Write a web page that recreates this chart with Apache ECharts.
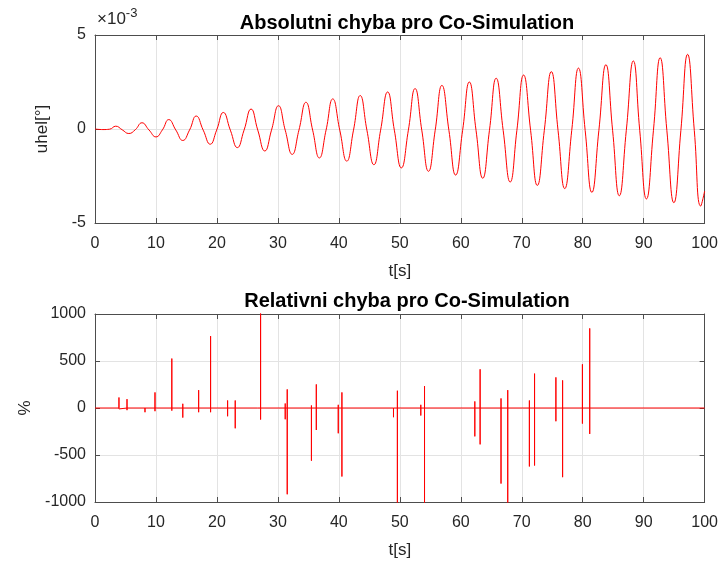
<!DOCTYPE html>
<html>
<head>
<meta charset="utf-8">
<script src="https://cdn.jsdelivr.net/npm/echarts@6/dist/echarts.min.js"></script>
<style>html,body{margin:0;padding:0;background:#fff}#c{width:721px;height:563px}</style>
</head>
<body>
<div id="c"></div>
<script>
// ---- Data ----
const xTicks = [0, 10, 20, 30, 40, 50, 60, 70, 80, 90, 100];
const absTitle = 'Absolutni chyba pro Co-Simulation';
const relTitle = 'Relativni chyba pro Co-Simulation';
const absYTicks = [-5, 0, 5];          // in units of 1e-3
const relYTicks = [-1000, -500, 0, 500, 1000];

// absolute error key points (peaks, troughs, crossings), values in 1e-3 units
const absT = [0, 1.3, 2.4, 3.4, 4.45, 5.55, 6.6, 7.7, 8.85, 10.0, 11.05, 12.1, 13.25, 14.4, 15.5, 16.6,
  17.75, 18.9, 19.95, 21.05, 22.2, 23.35, 24.45, 25.6, 26.7, 27.85, 28.95, 30.1, 31.2, 32.35, 33.45, 34.6,
  35.7, 36.8, 37.9, 39.0, 40.15, 41.3, 42.4, 43.5, 44.6, 45.75, 46.85, 48.0, 49.1, 50.25, 51.4, 52.5,
  53.6, 54.7, 55.8, 56.9, 58.05, 59.15, 60.3, 61.4, 62.5, 63.6, 64.7, 65.8, 66.95, 68.1, 69.2, 70.3,
  71.45, 72.55, 73.7, 74.85, 75.95, 77.05, 78.2, 79.3, 80.4, 81.5, 82.65, 83.8, 84.9, 86.0, 87.15, 88.3,
  89.35, 90.45, 91.6, 92.7, 93.8, 94.95, 96.1, 97.2, 98.3, 99.35, 100];
const absV = [0, -0.03, -0.01, 0.15, -0.04, -0.24, -0.04, 0.33, -0.05, -0.42, -0.05, 0.50, -0.05, -0.61, -0.06, 0.69,
  -0.06, -0.81, -0.06, 0.88, -0.06, -0.99, -0.06, 1.06, -0.06, -1.17, -0.06, 1.24, -0.06, -1.35, -0.06, 1.42,
  -0.06, -1.54, -0.06, 1.60, -0.06, -1.71, -0.06, 1.78, -0.06, -1.90, -0.06, 1.97, -0.06, -2.07, -0.06, 2.15,
  -0.06, -2.25, -0.07, 2.32, -0.07, -2.45, -0.07, 2.50, -0.07, -2.62, -0.07, 2.70, -0.07, -2.82, -0.07, 2.87,
  -0.07, -3.00, -0.07, 3.05, -0.07, -3.17, -0.07, 3.24, -0.07, -3.37, -0.07, 3.42, -0.07, -3.55, -0.07, 3.62,
  -0.07, -3.72, -0.07, 3.79, -0.07, -3.92, -0.07, 3.97, -0.07, -4.10, -3.3];

// relative error spikes: time, max, min (in %)
const spikeT   = [3.93, 5.25, 8.2, 9.84, 12.6, 14.4, 17.0, 18.96, 21.75, 23.0, 26.7, 27.16, 31.2, 31.53, 35.5, 36.3,
  39.9, 40.5, 48.96, 49.6, 53.44, 54.05, 62.3, 63.17, 66.6, 67.7, 71.25, 72.1, 75.6, 76.7, 79.95, 81.15];
const spikeMax = [112, 94, 16, 166, 526, 45, 190, 765, 80, 80, 10, 1150, 48, 198, 27, 251,
  34, 166, 16, 184, 34, 233, 70, 412, 102, 190, 80, 366, 326, 294, 465, 847];
const spikeMin = [-10, -23, -45, -34, -28, -102, -45, -45, -88, -216, -5, -123, -120, -918, -561, -234,
  -269, -729, -98, -1100, -80, -1100, -302, -387, -804, -1100, -622, -612, -141, -736, -166, -276];

// ---- build series data ----
const absData = absT.map((t, i) => [t, absV[i]]);
const relData = [[0, 0]];
spikeT.forEach((t, i) => {
  relData.push([t, 0], [t, spikeMax[i]], [t, spikeMin[i]], [t, 0]);
});
relData.push([100, 0]);

const TXT = '#262626';
const AX = '#4d4d4d';
const GRIDC = '#e3e3e3';
const FONT = 'Liberation Sans';
const fmt = v => String(v);

function xAxisMain(gi) {
  return {
    type: 'value', gridIndex: gi, min: xTicks[0], max: xTicks[xTicks.length - 1], interval: 10,
    name: 't[s]', nameLocation: 'middle', nameGap: 40,
    nameTextStyle: { color: TXT, fontSize: 17, fontFamily: FONT },
    axisLine: { show: true, onZero: false, lineStyle: { color: AX, width: 1 } },
    axisTick: { show: true, inside: true, length: 5, lineStyle: { color: AX } },
    axisLabel: { color: TXT, fontSize: 16, fontFamily: FONT, margin: 13, formatter: fmt },
    splitLine: { show: true, lineStyle: { color: GRIDC, width: 1 } }
  };
}
function xAxisTop(gi) {
  return {
    type: 'value', gridIndex: gi, position: 'top', min: xTicks[0], max: xTicks[xTicks.length - 1], interval: 10,
    axisLine: { show: true, onZero: false, lineStyle: { color: AX, width: 1 } },
    axisTick: { show: true, inside: true, length: 5, lineStyle: { color: AX } },
    axisLabel: { show: false }, splitLine: { show: false }
  };
}
function yAxisMain(gi, ticks, interval, name, gap) {
  return {
    type: 'value', gridIndex: gi, min: ticks[0], max: ticks[ticks.length - 1], interval: interval,
    name: name, nameLocation: 'middle', nameGap: gap, nameRotate: 90,
    nameTextStyle: { color: TXT, fontSize: 17, fontFamily: FONT },
    axisLine: { show: true, onZero: false, lineStyle: { color: AX, width: 1 } },
    axisTick: { show: true, inside: true, length: 5, lineStyle: { color: AX } },
    axisLabel: { color: TXT, fontSize: 16, fontFamily: FONT, margin: 9, formatter: fmt },
    splitLine: { show: true, lineStyle: { color: GRIDC, width: 1 } }
  };
}
function yAxisRight(gi, ticks, interval) {
  return {
    type: 'value', gridIndex: gi, position: 'right', min: ticks[0], max: ticks[ticks.length - 1], interval: interval,
    axisLine: { show: true, onZero: false, lineStyle: { color: AX, width: 1 } },
    axisTick: { show: true, inside: true, length: 5, lineStyle: { color: AX } },
    axisLabel: { show: false }, splitLine: { show: false }
  };
}

const chart = echarts.init(document.getElementById('c'), null, { renderer: 'canvas' });
chart.setOption({
  backgroundColor: '#ffffff',
  animation: false,
  title: [
    { text: absTitle, left: 402, top: 8, textAlign: 'center',
      textStyle: { fontSize: 20, fontWeight: 'bold', color: '#000', fontFamily: FONT } },
    { text: relTitle, left: 402, top: 286, textAlign: 'center',
      textStyle: { fontSize: 20, fontWeight: 'bold', color: '#000', fontFamily: FONT } }
  ],
  graphic: [{
    type: 'text', left: 97, top: 7,
    style: {
      text: '{a|×10}{b|-3}',
      rich: {
        a: { fontSize: 17, fill: TXT, fontFamily: FONT, verticalAlign: 'bottom' },
        b: { fontSize: 13, fill: TXT, fontFamily: FONT, verticalAlign: 'top', padding: [0, 0, 8, 0] }
      }
    }
  }],
  grid: [
    { left: 95, right: 16, top: 35, height: 188 },
    { left: 95, right: 16, top: 314, height: 188 }
  ],
  xAxis: [xAxisMain(0), xAxisTop(0), xAxisMain(1), xAxisTop(1)],
  yAxis: [
    yAxisMain(0, absYTicks, 5, 'uhel[°]', 44), yAxisRight(0, absYTicks, 5),
    yAxisMain(1, relYTicks, 500, '%', 55), yAxisRight(1, relYTicks, 500)
  ],
  series: [
    { type: 'line', xAxisIndex: 0, yAxisIndex: 0, data: absData, smooth: 0.5, z: 5,
      showSymbol: false, lineStyle: { color: '#ff0000', width: 1 }, clip: true },
    { type: 'line', xAxisIndex: 2, yAxisIndex: 2, data: relData, smooth: false, z: 5,
      showSymbol: false, lineStyle: { color: '#ff0000', width: 1 }, clip: true }
  ]
});
</script>
</body>
</html>
